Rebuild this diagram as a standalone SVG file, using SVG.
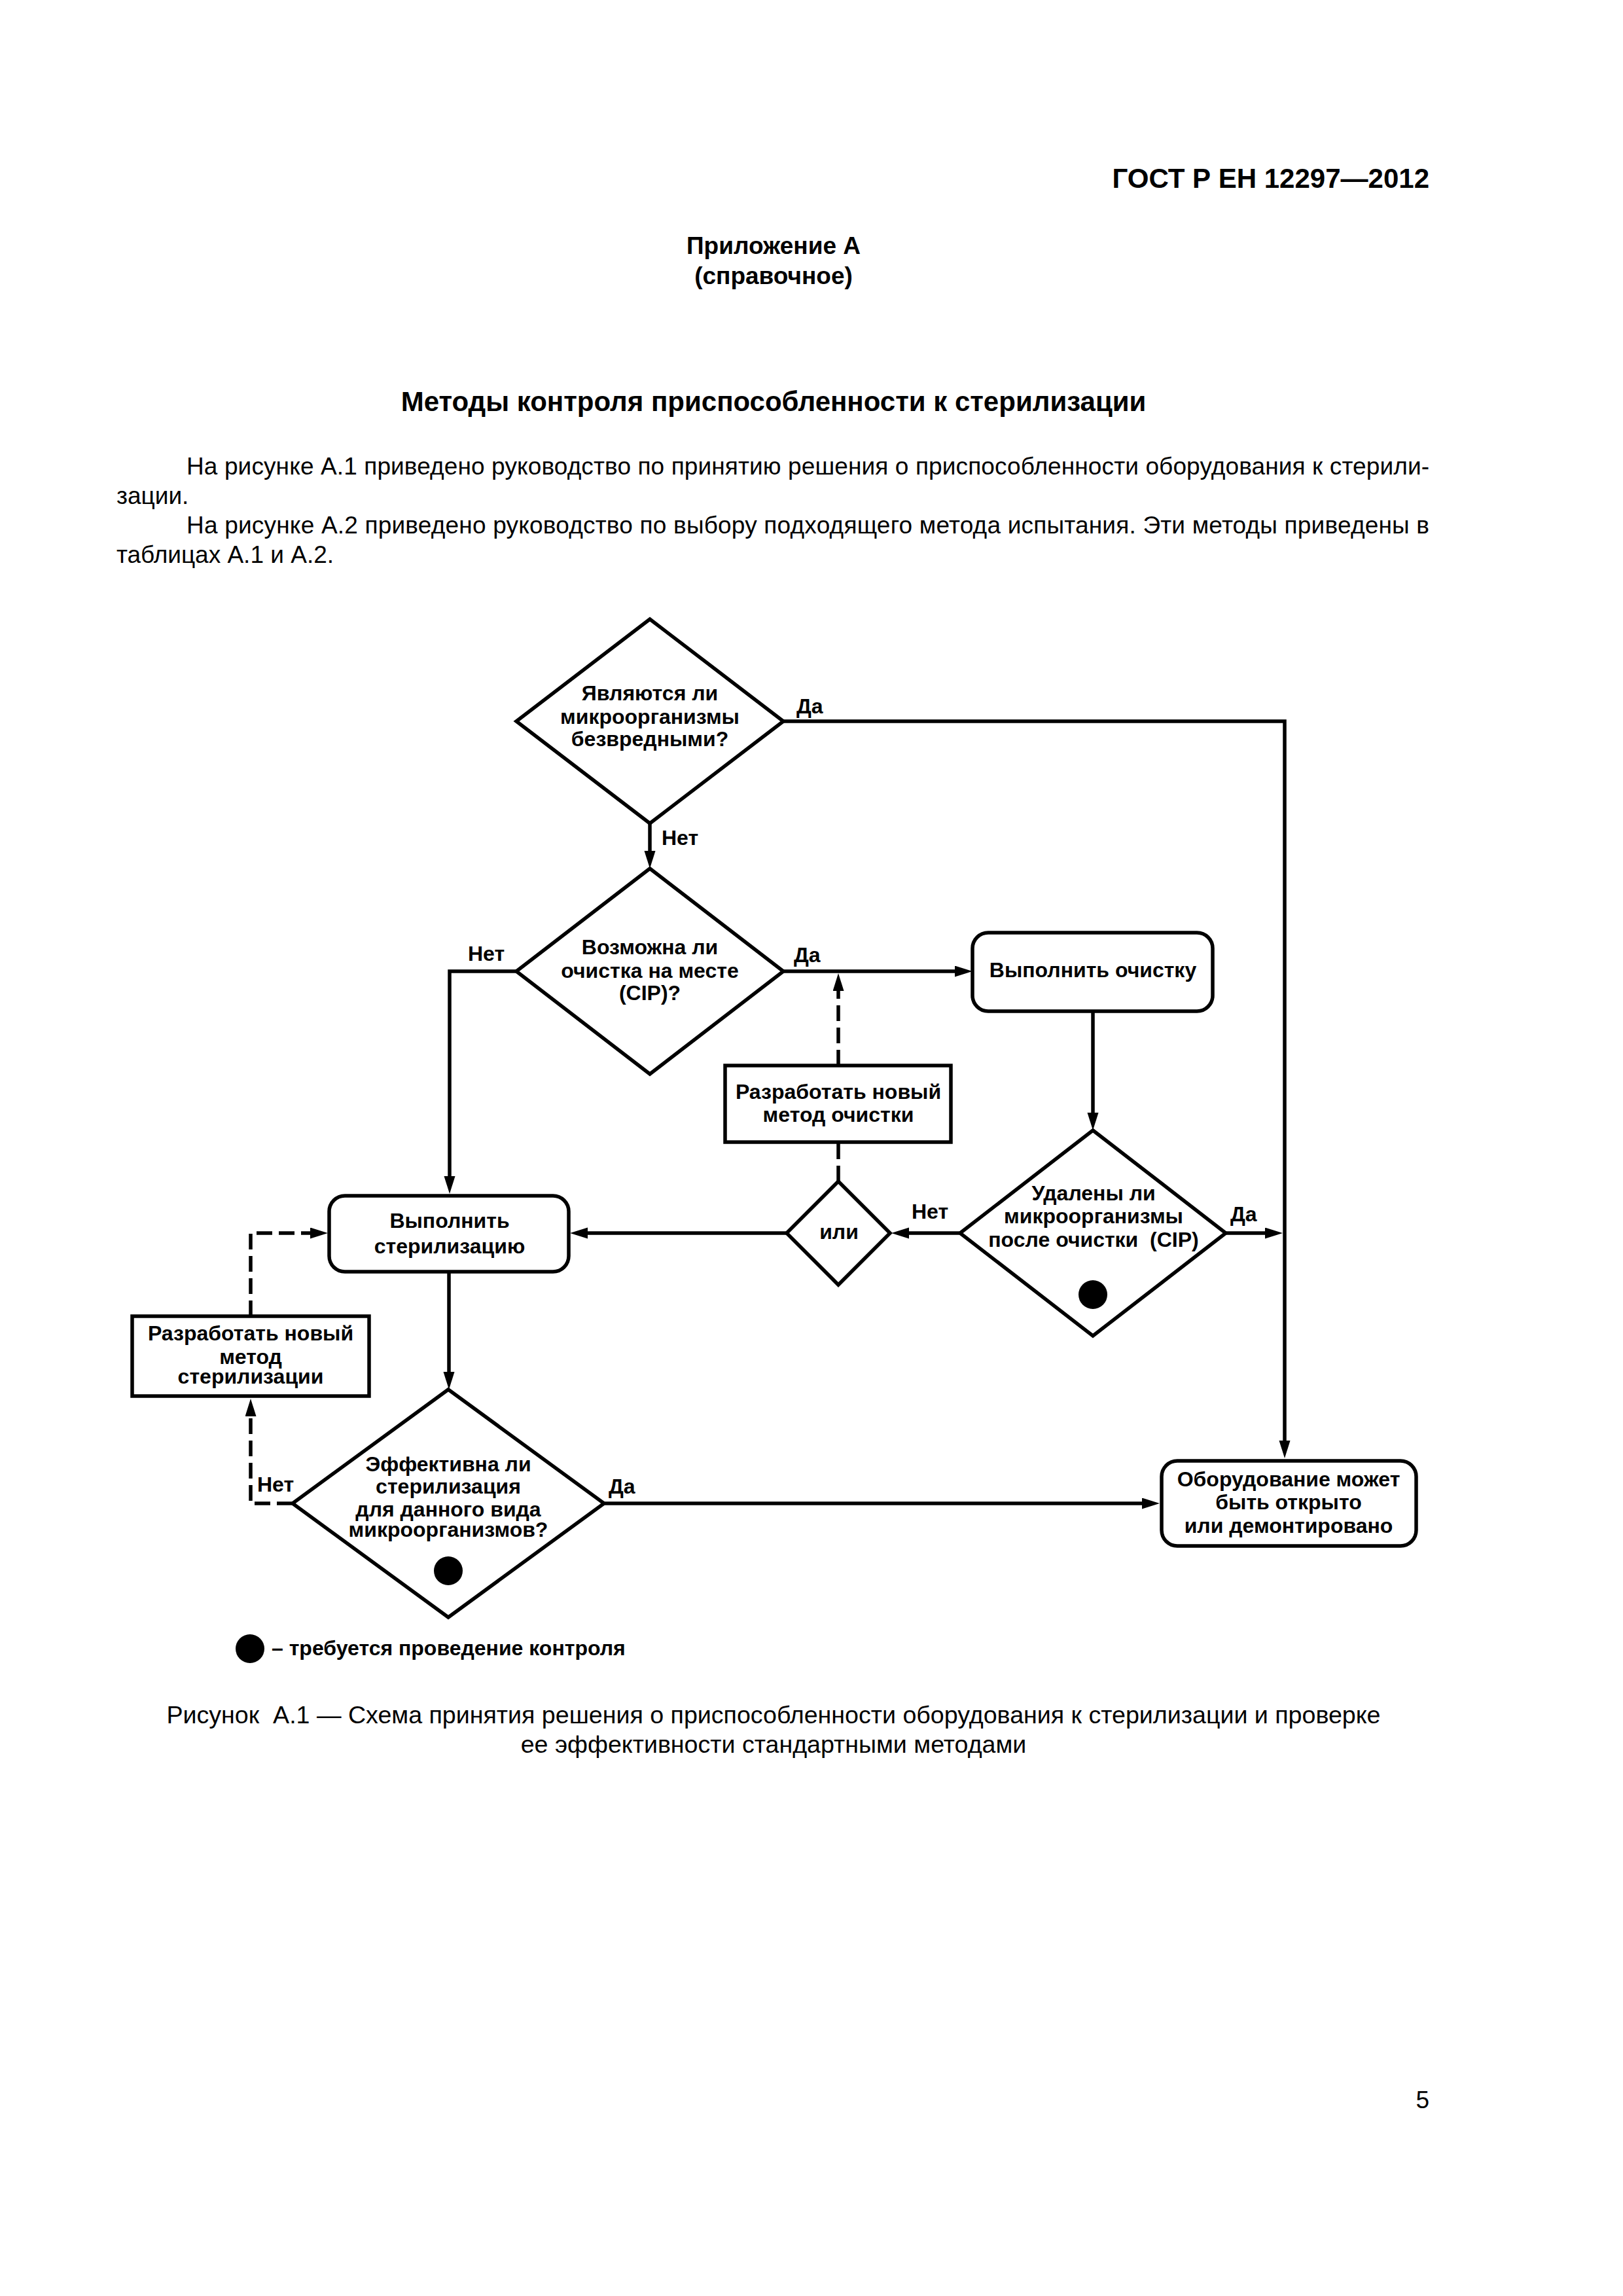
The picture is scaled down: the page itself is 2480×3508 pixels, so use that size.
<svg xmlns="http://www.w3.org/2000/svg" width="2480" height="3508" viewBox="0 0 2480 3508">
<style>
text{font-family:"Liberation Sans",Arial,Helvetica,sans-serif;fill:#000}
.hb{font-weight:bold}
.d{font-size:32px;font-weight:bold;text-anchor:middle}
.l{font-size:32px;font-weight:bold}
.p{font-size:37px}
.c{font-size:37.6px;text-anchor:middle}
.shape{fill:#fff;stroke:#000;stroke-width:5.5;stroke-linejoin:miter}
.line{fill:none;stroke:#000;stroke-width:5.5}
.dash{stroke-dasharray:24 10}
.dot{fill:#000}
</style>
<defs>
<marker id="ah" markerUnits="userSpaceOnUse" markerWidth="28" markerHeight="18" refX="15" refY="8.5" orient="auto"><path d="M0,0 L27,8.5 L0,17 z" fill="#000"/></marker>
</defs>
<rect x="0" y="0" width="2480" height="3508" fill="#fff"/>

<g id="page-text">
<text class="hb" x="2184" y="287" font-size="42" text-anchor="end">ГОСТ Р ЕН 12297—2012</text>
<text class="hb" x="1182" y="388" font-size="37" text-anchor="middle">Приложение А</text>
<text class="hb" x="1182" y="434" font-size="37" text-anchor="middle">(справочное)</text>
<text class="hb" x="1182" y="628" font-size="42" text-anchor="middle">Методы контроля приспособленности к стерилизации</text>
<text class="p" x="285" y="725" textLength="1899" lengthAdjust="spacing">На рисунке А.1 приведено руководство по принятию решения о приспособленности оборудования к стерили-</text>
<text class="p" x="178" y="770">зации.</text>
<text class="p" x="285" y="815" textLength="1899" lengthAdjust="spacing">На рисунке А.2 приведено руководство по выбору подходящего метода испытания. Эти методы приведены в</text>
<text class="p" x="178" y="860">таблицах А.1 и А.2.</text>
</g>

<g id="connectors">
<path class="line" d="M1195,1102 H1963 V2216" marker-end="url(#ah)"/>
<path class="line" d="M993,1257 V1315" marker-end="url(#ah)"/>
<path class="line" d="M1197,1484 H1474" marker-end="url(#ah)"/>
<path class="line" d="M789,1484 H687 V1812" marker-end="url(#ah)"/>
<path class="line" d="M1670,1545 V1715" marker-end="url(#ah)"/>
<path class="line" d="M1467,1884 H1374" marker-end="url(#ah)"/>
<path class="line" d="M1873,1884 H1948" marker-end="url(#ah)"/>
<path class="line" d="M1202,1884 H883" marker-end="url(#ah)"/>
<path class="line dash" d="M1281,1805 V1745"/>
<path class="line dash" d="M1281,1628 V1499" marker-end="url(#ah)"/>
<path class="line" d="M686,1943 V2111" marker-end="url(#ah)"/>
<path class="line" d="M923,2297 H1760" marker-end="url(#ah)"/>
<path class="line dash" d="M447,2297 H383 V2149" marker-end="url(#ah)"/>
<path class="line dash" d="M383,2011 V1884 H489" marker-end="url(#ah)"/>
<text class="l" x="1217" y="1090">Да</text>
<text class="l" x="1011" y="1291">Нет</text>
<text class="l" x="715" y="1468">Нет</text>
<text class="l" x="1213" y="1470">Да</text>
<text class="l" x="1393" y="1862">Нет</text>
<text class="l" x="1880" y="1866">Да</text>
<text class="l" x="393" y="2279">Нет</text>
<text class="l" x="930" y="2282">Да</text>
</g>

<g id="d1-harmless">
<polygon class="shape" points="993,946 1197,1102 993,1258 789,1102"/>
<text class="d" x="993" y="1070">Являются ли</text>
<text class="d" x="993" y="1106">микроорганизмы</text>
<text class="d" x="993" y="1140">безвредными?</text>
</g>

<g id="d2-cip">
<polygon class="shape" points="993,1327 1197,1484 993,1641 789,1484"/>
<text class="d" x="993" y="1458">Возможна ли</text>
<text class="d" x="993" y="1494">очистка на месте</text>
<text class="d" x="993" y="1528">(CIP)?</text>
</g>

<g id="b-clean">
<rect class="shape" x="1486" y="1425" width="367" height="120" rx="24" ry="24"/>
<text class="d" x="1670" y="1493">Выполнить очистку</text>
</g>

<g id="b-newclean">
<rect class="shape" x="1108" y="1628" width="345" height="117"/>
<text class="d" x="1281" y="1679">Разработать новый</text>
<text class="d" x="1281" y="1714">метод очистки</text>
</g>

<g id="d-or">
<polygon class="shape" points="1281,1805 1360,1884 1281,1963 1202,1884"/>
<text class="d" x="1282" y="1893">или</text>
</g>

<g id="d3-removed">
<polygon class="shape" points="1670,1727 1873,1884 1670,2041 1467,1884"/>
<text class="d" x="1671" y="1834">Удалены ли</text>
<text class="d" x="1671" y="1869">микроорганизмы</text>
<text class="d" x="1671" y="1905" xml:space="preserve">после очистки  (CIP)</text>
<circle class="dot" cx="1670" cy="1978" r="22"/>
</g>

<g id="b-steril">
<rect class="shape" x="503" y="1827" width="366" height="116" rx="24" ry="24"/>
<text class="d" x="687" y="1876">Выполнить</text>
<text class="d" x="687" y="1915">стерилизацию</text>
</g>

<g id="b-newsteril">
<rect class="shape" x="202" y="2011" width="362" height="122"/>
<text class="d" x="383" y="2048">Разработать новый</text>
<text class="d" x="383" y="2084">метод</text>
<text class="d" x="383" y="2114">стерилизации</text>
</g>

<g id="d4-effective">
<polygon class="shape" points="685,2123 923,2297 685,2471 447,2297"/>
<text class="d" x="685" y="2248">Эффективна ли</text>
<text class="d" x="685" y="2282">стерилизация</text>
<text class="d" x="685" y="2317">для данного вида</text>
<text class="d" x="685" y="2348">микроорганизмов?</text>
<circle class="dot" cx="685" cy="2400" r="22"/>
</g>

<g id="b-open">
<rect class="shape" x="1775" y="2232" width="389" height="130" rx="24" ry="24"/>
<text class="d" x="1969" y="2271" font-size="32.6">Оборудование может</text>
<text class="d" x="1969" y="2306" font-size="32.6">быть открыто</text>
<text class="d" x="1969" y="2342" font-size="32.6">или демонтировано</text>
</g>

<g id="legend">
<circle class="dot" cx="382" cy="2519" r="22"/>
<text class="l" x="415" y="2529" font-size="33.5">– требуется проведение контроля</text>
</g>

<g id="caption">
<text class="c" x="1182" y="2633" xml:space="preserve">Рисунок  А.1 — Схема принятия решения о приспособленности оборудования к стерилизации и проверке</text>
<text class="c" x="1182" y="2678">ее эффективности стандартными методами</text>
<text class="p" x="2184" y="3221" text-anchor="end">5</text>
</g>
</svg>
